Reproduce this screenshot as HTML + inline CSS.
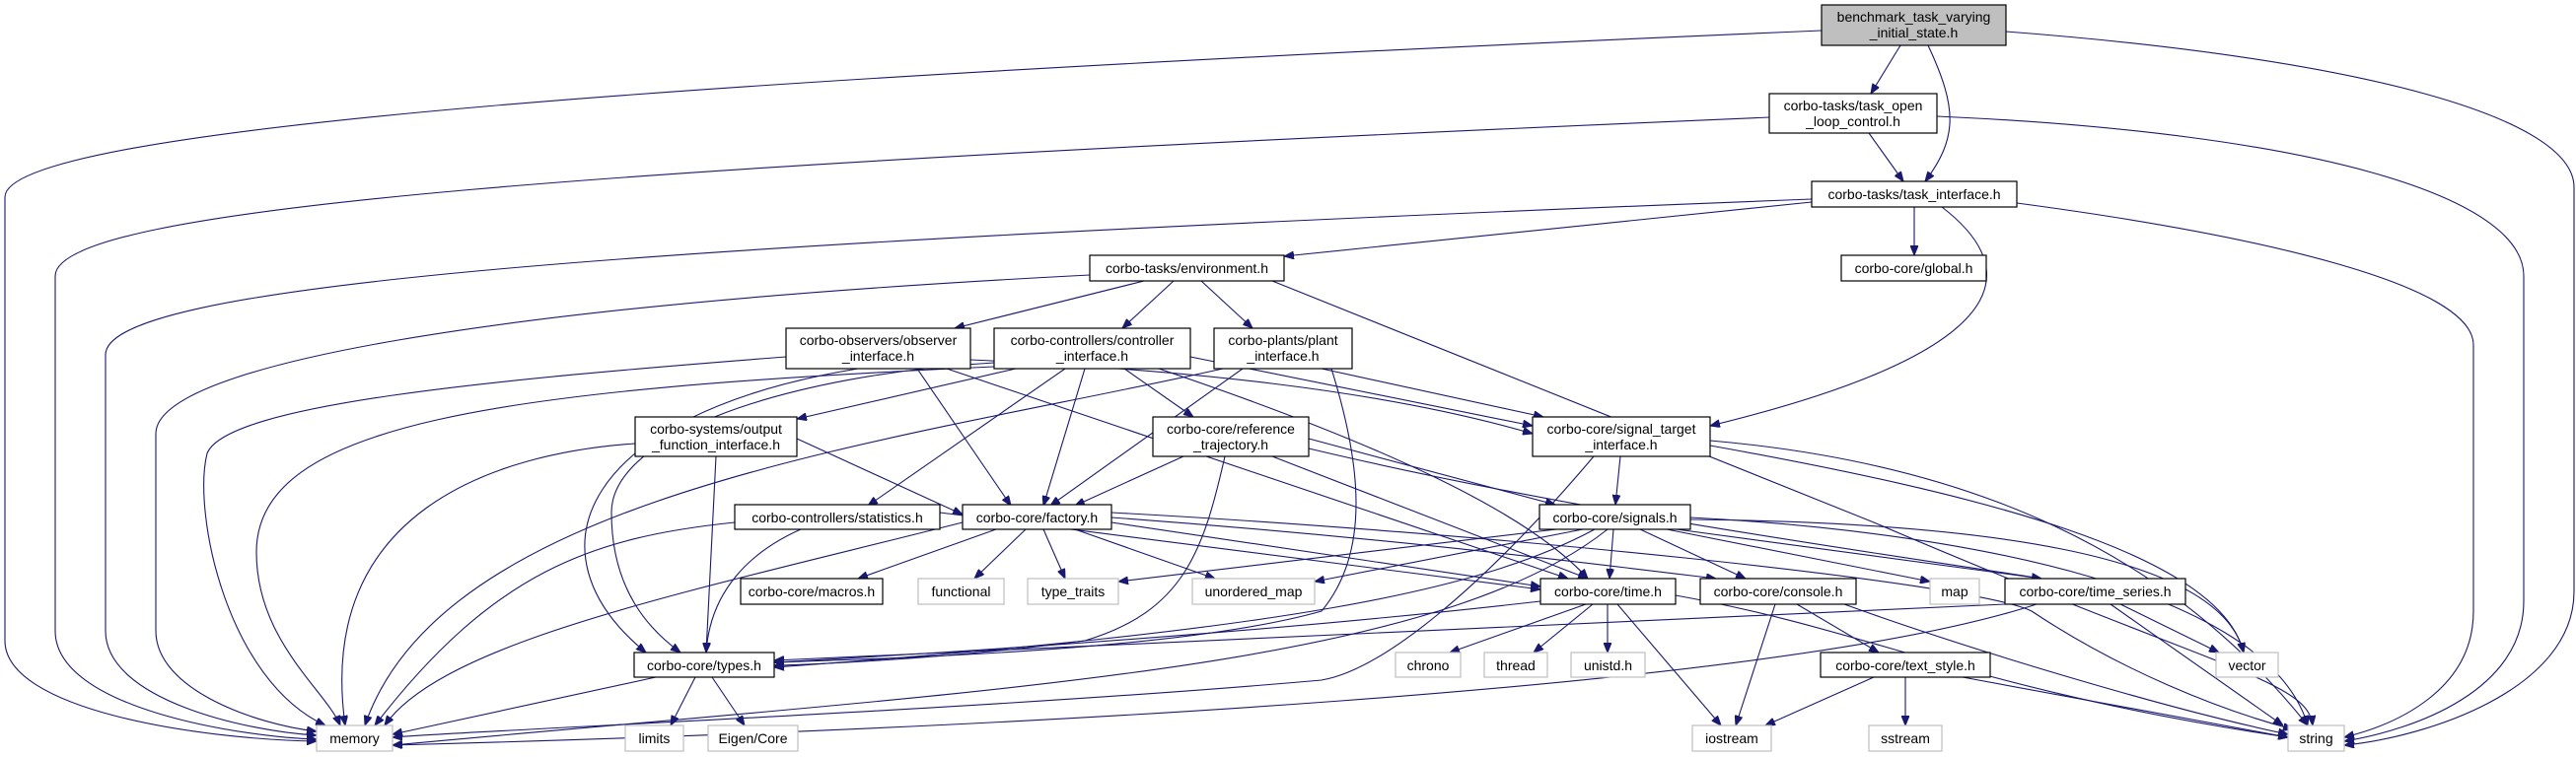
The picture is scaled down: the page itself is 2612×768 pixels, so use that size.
<!DOCTYPE html>
<html><head><meta charset="utf-8"><style>
html,body{margin:0;padding:0;background:#fff;}
svg{display:block;}
text{font-family:"Liberation Sans",sans-serif;font-size:14px;fill:#000;}
.e{fill:none;stroke:#191970;stroke-width:1.1;marker-end:url(#a);}
.n{fill:#fff;stroke:#000;stroke-width:1.2;}
.g{fill:#fff;stroke:#bfbfbf;stroke-width:1.2;}
</style></head><body>
<svg width="2612" height="768" viewBox="0 0 2612 768" xmlns="http://www.w3.org/2000/svg">
<defs><marker id="a" markerWidth="10" markerHeight="8" refX="10" refY="4" orient="auto" markerUnits="userSpaceOnUse"><path d="M0,0 L10,4 L0,8z" fill="#191970" stroke="#191970"/></marker></defs>
<g>
<path class="e" d="M1927,46 L1897,95"/>
<path class="e" d="M1955,46 C1985,110 1985,140 1952,184"/>
<path class="e" d="M1895,135 L1930,184"/>
<path class="e" d="M1837,205 L1302,260"/>
<path class="e" d="M1941,210 L1941,259"/>
<path class="e" d="M1969,210 C2060,280 2030,360 1734,432"/>
<path class="e" d="M2045,206 C2300,240 2508,290 2508,350 L2508,620 C2508,700 2430,735 2377,748"/>
<path class="e" d="M1964,118 C2350,135 2559,200 2559,280 L2559,610 C2559,700 2450,740 2377,752"/>
<path class="e" d="M2034,32 C2400,60 2610,120 2610,190 L2610,600 C2610,700 2460,748 2377,756"/>
<path class="e" d="M1847,31 C700,80 5,130 5,200 L5,650 C5,720 200,750 321,752"/>
<path class="e" d="M1794,119 C600,170 56,210 56,280 L56,640 C56,720 250,748 321,750"/>
<path class="e" d="M1837,202 C600,250 107,290 107,360 L107,640 C107,710 250,742 321,746"/>
<path class="e" d="M1105,279 C500,310 158,370 158,440 L158,640 C158,700 260,735 321,742"/>
<path class="e" d="M1160,285 L968,333"/>
<path class="e" d="M1190,285 L1138,333"/>
<path class="e" d="M1218,285 L1270,333"/>
<path class="e" d="M1290,285 L1900,530 C2250,680 2340,690 2345,736"/>
<path class="e" d="M797,362 C500,385 230,410 210,460 C195,520 230,690 330,736"/>
<path class="e" d="M930,374 L1025,513"/>
<path class="e" d="M870,374 C590,420 530,560 655,662"/>
<path class="e" d="M960,374 L1590,587"/>
<path class="e" d="M984,365 C1200,375 1400,395 1554,440"/>
<path class="e" d="M1030,374 L808,425"/>
<path class="e" d="M1080,374 L880,513"/>
<path class="e" d="M1140,374 L1210,423"/>
<path class="e" d="M1100,374 L1058,513"/>
<path class="e" d="M1175,374 C1400,450 1550,520 1610,587"/>
<path class="e" d="M1207,362 L1554,432"/>
<path class="e" d="M1008,368 C800,380 620,440 620,520 C620,600 660,640 690,662"/>
<path class="e" d="M1008,372 C500,395 260,430 260,560 C260,650 330,700 345,736"/>
<path class="e" d="M1260,374 L1065,513"/>
<path class="e" d="M1340,374 L1565,423"/>
<path class="e" d="M1350,374 C1380,470 1390,560 1340,620 C1200,660 900,668 785,672"/>
<path class="e" d="M1240,374 C900,450 450,500 370,736"/>
<path class="e" d="M808,445 L976,522"/>
<path class="e" d="M726,463 L716,662"/>
<path class="e" d="M644,450 C500,460 320,520 350,736"/>
<path class="e" d="M1200,463 L1090,513"/>
<path class="e" d="M1327,445 L1577,512"/>
<path class="e" d="M1290,463 L1610,587"/>
<path class="e" d="M1327,455 C1600,520 1900,560 2070,587"/>
<path class="e" d="M1242,463 C1220,560 1200,620 1100,650 C950,670 800,675 785,675"/>
<path class="e" d="M1643,463 L1638,512"/>
<path class="e" d="M1734,447 C2000,470 2200,560 2340,736"/>
<path class="e" d="M1734,452 C2000,500 2250,560 2275,662"/>
<path class="e" d="M1616,463 C1500,600 1400,680 1340,690 C1000,720 500,740 398,748"/>
<path class="e" d="M812,537 C760,560 720,600 716,662"/>
<path class="e" d="M953,520 L1562,598"/>
<path class="e" d="M745,530 C600,545 500,580 380,736"/>
<path class="e" d="M1010,537 L870,587"/>
<path class="e" d="M1040,537 L988,587"/>
<path class="e" d="M1058,537 L1080,587"/>
<path class="e" d="M1090,537 L1232,587"/>
<path class="e" d="M1127,530 L1562,595"/>
<path class="e" d="M1127,525 C1400,545 1600,570 1740,587"/>
<path class="e" d="M1127,520 C1500,540 2000,590 2060,620 C2150,680 2250,720 2325,740"/>
<path class="e" d="M976,530 C700,600 450,650 390,736"/>
<path class="e" d="M1636,537 L1632,587"/>
<path class="e" d="M1663,537 L1770,587"/>
<path class="e" d="M1700,537 L2070,587"/>
<path class="e" d="M1690,537 L1957,590"/>
<path class="e" d="M1714,527 C2000,530 2250,560 2275,662"/>
<path class="e" d="M1714,525 C2000,540 2300,600 2340,736"/>
<path class="e" d="M1578,537 L1134,590"/>
<path class="e" d="M1605,537 L1333,590"/>
<path class="e" d="M1617,537 C1500,600 1300,640 785,677"/>
<path class="e" d="M1630,537 C1450,680 1000,700 398,756"/>
<path class="e" d="M1608,613 L1470,662"/>
<path class="e" d="M1615,613 L1555,662"/>
<path class="e" d="M1630,613 L1630,662"/>
<path class="e" d="M1640,613 L1745,736"/>
<path class="e" d="M1562,610 C1300,640 1000,660 785,672"/>
<path class="e" d="M1699,604 C1900,640 2000,700 2320,748"/>
<path class="e" d="M1822,613 L1905,662"/>
<path class="e" d="M1800,613 L1760,736"/>
<path class="e" d="M1870,613 C2000,660 2200,720 2320,745"/>
<path class="e" d="M2150,613 L2250,662"/>
<path class="e" d="M2140,613 L2315,736"/>
<path class="e" d="M2033,613 C1500,640 1000,660 785,670"/>
<path class="e" d="M2065,613 C1800,700 1000,740 398,756"/>
<path class="e" d="M1900,687 L1790,736"/>
<path class="e" d="M1932,687 L1932,736"/>
<path class="e" d="M1990,687 L2320,748"/>
<path class="e" d="M665,687 L398,745"/>
<path class="e" d="M705,687 L680,736"/>
<path class="e" d="M722,687 L755,736"/>
</g>
<g>
<rect x="1847" y="5" width="187" height="41" fill="#bfbfbf" stroke="#000" stroke-width="1.2"/>
<text x="1940.5" y="22" text-anchor="middle">benchmark_task_varying</text>
<text x="1940.5" y="38" text-anchor="middle">_initial_state.h</text>

<rect class="n" x="1794" y="95" width="170" height="40"/>
<text x="1879" y="112" text-anchor="middle">corbo-tasks/task_open</text>
<text x="1879" y="128" text-anchor="middle">_loop_control.h</text>

<rect class="n" x="1837" y="184" width="208" height="26"/>
<text x="1941" y="202" text-anchor="middle">corbo-tasks/task_interface.h</text>

<rect class="n" x="1105" y="259" width="197" height="26"/>
<text x="1203.5" y="277" text-anchor="middle">corbo-tasks/environment.h</text>

<rect class="n" x="1867" y="259" width="147" height="26"/>
<text x="1940.5" y="277" text-anchor="middle">corbo-core/global.h</text>

<rect class="n" x="797" y="333" width="187" height="41"/>
<text x="890.5" y="350" text-anchor="middle">corbo-observers/observer</text>
<text x="890.5" y="366" text-anchor="middle">_interface.h</text>

<rect class="n" x="1008" y="333" width="199" height="41"/>
<text x="1107.5" y="350" text-anchor="middle">corbo-controllers/controller</text>
<text x="1107.5" y="366" text-anchor="middle">_interface.h</text>

<rect class="n" x="1231" y="333" width="140" height="41"/>
<text x="1301" y="350" text-anchor="middle">corbo-plants/plant</text>
<text x="1301" y="366" text-anchor="middle">_interface.h</text>

<rect class="n" x="644" y="423" width="164" height="40"/>
<text x="726" y="440" text-anchor="middle">corbo-systems/output</text>
<text x="726" y="456" text-anchor="middle">_function_interface.h</text>

<rect class="n" x="1169" y="423" width="158" height="40"/>
<text x="1248" y="440" text-anchor="middle">corbo-core/reference</text>
<text x="1248" y="456" text-anchor="middle">_trajectory.h</text>

<rect class="n" x="1554" y="423" width="180" height="40"/>
<text x="1644" y="440" text-anchor="middle">corbo-core/signal_target</text>
<text x="1644" y="456" text-anchor="middle">_interface.h</text>

<rect class="n" x="745" y="512" width="208" height="25"/>
<text x="849" y="530" text-anchor="middle">corbo-controllers/statistics.h</text>

<rect class="n" x="976" y="512" width="151" height="25"/>
<text x="1051.5" y="530" text-anchor="middle">corbo-core/factory.h</text>

<rect class="n" x="1561" y="512" width="153" height="25"/>
<text x="1637.5" y="530" text-anchor="middle">corbo-core/signals.h</text>

<rect class="n" x="751" y="587" width="144" height="26"/>
<text x="823" y="605" text-anchor="middle">corbo-core/macros.h</text>

<rect class="g" x="931" y="587" width="87" height="26"/>
<text x="974.5" y="605" text-anchor="middle">functional</text>

<rect class="g" x="1042" y="587" width="92" height="26"/>
<text x="1088" y="605" text-anchor="middle">type_traits</text>

<rect class="g" x="1209" y="587" width="124" height="26"/>
<text x="1271" y="605" text-anchor="middle">unordered_map</text>

<rect class="n" x="1562" y="587" width="137" height="26"/>
<text x="1630.5" y="605" text-anchor="middle">corbo-core/time.h</text>

<rect class="n" x="1724" y="587" width="158" height="26"/>
<text x="1803" y="605" text-anchor="middle">corbo-core/console.h</text>

<rect class="g" x="1957" y="587" width="50" height="26"/>
<text x="1982" y="605" text-anchor="middle">map</text>

<rect class="n" x="2033" y="587" width="183" height="26"/>
<text x="2124.5" y="605" text-anchor="middle">corbo-core/time_series.h</text>

<rect class="n" x="643" y="662" width="142" height="25"/>
<text x="714" y="680" text-anchor="middle">corbo-core/types.h</text>

<rect class="g" x="1415" y="662" width="66" height="25"/>
<text x="1448" y="680" text-anchor="middle">chrono</text>

<rect class="g" x="1505" y="662" width="64" height="25"/>
<text x="1537" y="680" text-anchor="middle">thread</text>

<rect class="g" x="1593" y="662" width="75" height="25"/>
<text x="1630.5" y="680" text-anchor="middle">unistd.h</text>

<rect class="n" x="1846" y="662" width="172" height="25"/>
<text x="1932" y="680" text-anchor="middle">corbo-core/text_style.h</text>

<rect class="g" x="2247" y="662" width="63" height="25"/>
<text x="2278.5" y="680" text-anchor="middle">vector</text>

<rect class="g" x="321" y="736" width="77" height="26"/>
<text x="359.5" y="754" text-anchor="middle">memory</text>

<rect class="g" x="634" y="736" width="59" height="26"/>
<text x="663.5" y="754" text-anchor="middle">limits</text>

<rect class="g" x="718" y="736" width="91" height="26"/>
<text x="763.5" y="754" text-anchor="middle">Eigen/Core</text>

<rect class="g" x="1716" y="736" width="80" height="26"/>
<text x="1756" y="754" text-anchor="middle">iostream</text>

<rect class="g" x="1895" y="736" width="74" height="26"/>
<text x="1932" y="754" text-anchor="middle">sstream</text>

<rect class="g" x="2320" y="736" width="57" height="26"/>
<text x="2348.5" y="754" text-anchor="middle">string</text>
</g>
</svg>
</body></html>
